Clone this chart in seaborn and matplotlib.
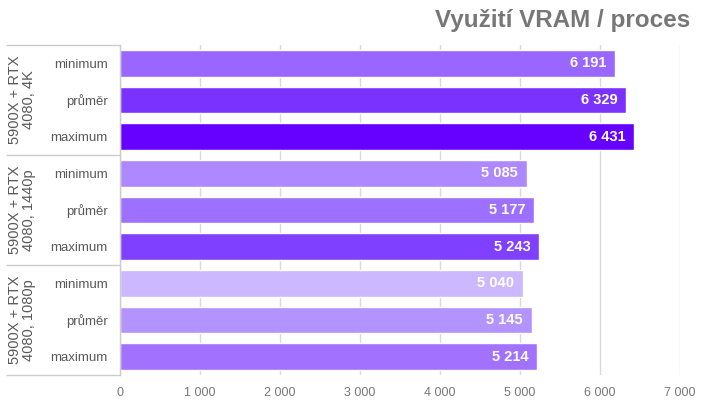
import matplotlib
matplotlib.use("Agg")
import matplotlib.pyplot as plt
import matplotlib.transforms as mtransforms
from matplotlib.lines import Line2D
import seaborn as sns
import pandas as pd

groups = ["5900X + RTX\n4080, 4K", "5900X + RTX\n4080, 1440p", "5900X + RTX\n4080, 1080p"]
categories = ["minimum", "průměr", "maximum"]
values = [6191, 6329, 6431, 5085, 5177, 5243, 5040, 5145, 5214]
colors = ["#9966ff", "#7a33ff", "#6600ff",
          "#ad88ff", "#9e70ff", "#7f40ff",
          "#ccb8ff", "#b394ff", "#a272ff"]
title = "Využití VRAM / proces"
xticks = [0, 1000, 2000, 3000, 4000, 5000, 6000, 7000]

rows = [f"r{i}" for i in range(len(values))]
df = pd.DataFrame({"row": rows, "value": values})

sns.set_theme(style="white")
plt.rcParams["font.family"] = ["Liberation Sans", "DejaVu Sans"]

fig = plt.figure(figsize=(7.2, 4.05), dpi=100)
ax = fig.add_axes([120/720, 1-375/405, 560/720, 330/405])

sns.barplot(data=df, x="value", y="row", hue="row", palette=colors,
            legend=False, orient="h", width=0.72, ax=ax, saturation=1)

ax.set_xlim(0, 7000)
ax.set_ylim(8.5, -0.5)
ax.set_xticks(xticks)
ax.set_xticklabels([f"{t:,}".replace(",", " ") for t in xticks], color="#777777", fontsize=9)
ax.set_yticks(range(len(values)))
ax.set_yticklabels(categories * len(groups), color="#595959", fontsize=9.5)
ax.tick_params(axis="both", length=0)
ax.tick_params(axis="y", pad=9)
ax.tick_params(axis="x", pad=9)
ax.set_xlabel("")
ax.set_ylabel("")
ax.grid(axis="x", color="#d9d9d9", linewidth=1)
ax.set_axisbelow(True)
for s in ["top", "right", "bottom"]:
    ax.spines[s].set_visible(False)
ax.spines["left"].set_color("#cccccc")
ax.spines["left"].set_linewidth(1)

for i, v in enumerate(values):
    ax.text(v - 110, i, f"{v:,}".replace(",", " "), ha="right", va="center",
            color="white", fontsize=10.5, fontweight="bold")

# group separators: short segments in figure pixel coordinates
n_rows = len(values)
row_h = 330 / n_rows
for k in range(len(groups) + 1):
    ypx = 405 - (375 - k * 3 * row_h)
    yf = ypx / 405
    seg = Line2D([6/720, 119.5/720], [yf, yf], color="#cccccc", linewidth=1,
                 solid_capstyle="butt", transform=fig.transFigure)
    fig.lines.append(seg)

trans = mtransforms.blended_transform_factory(ax.transAxes, ax.transData)
for gi, g in enumerate(groups):
    ax.text(-98/560, gi*3 + 1, g, transform=trans, rotation=90, ha="center", va="center",
            color="#595959", fontsize=10.5, linespacing=1.05)

fig.text(690/720, 1-20/405, title, ha="right", va="center", color="#777777",
         fontsize=17.5, fontweight="bold")

fig.savefig("out.png", dpi=100)
